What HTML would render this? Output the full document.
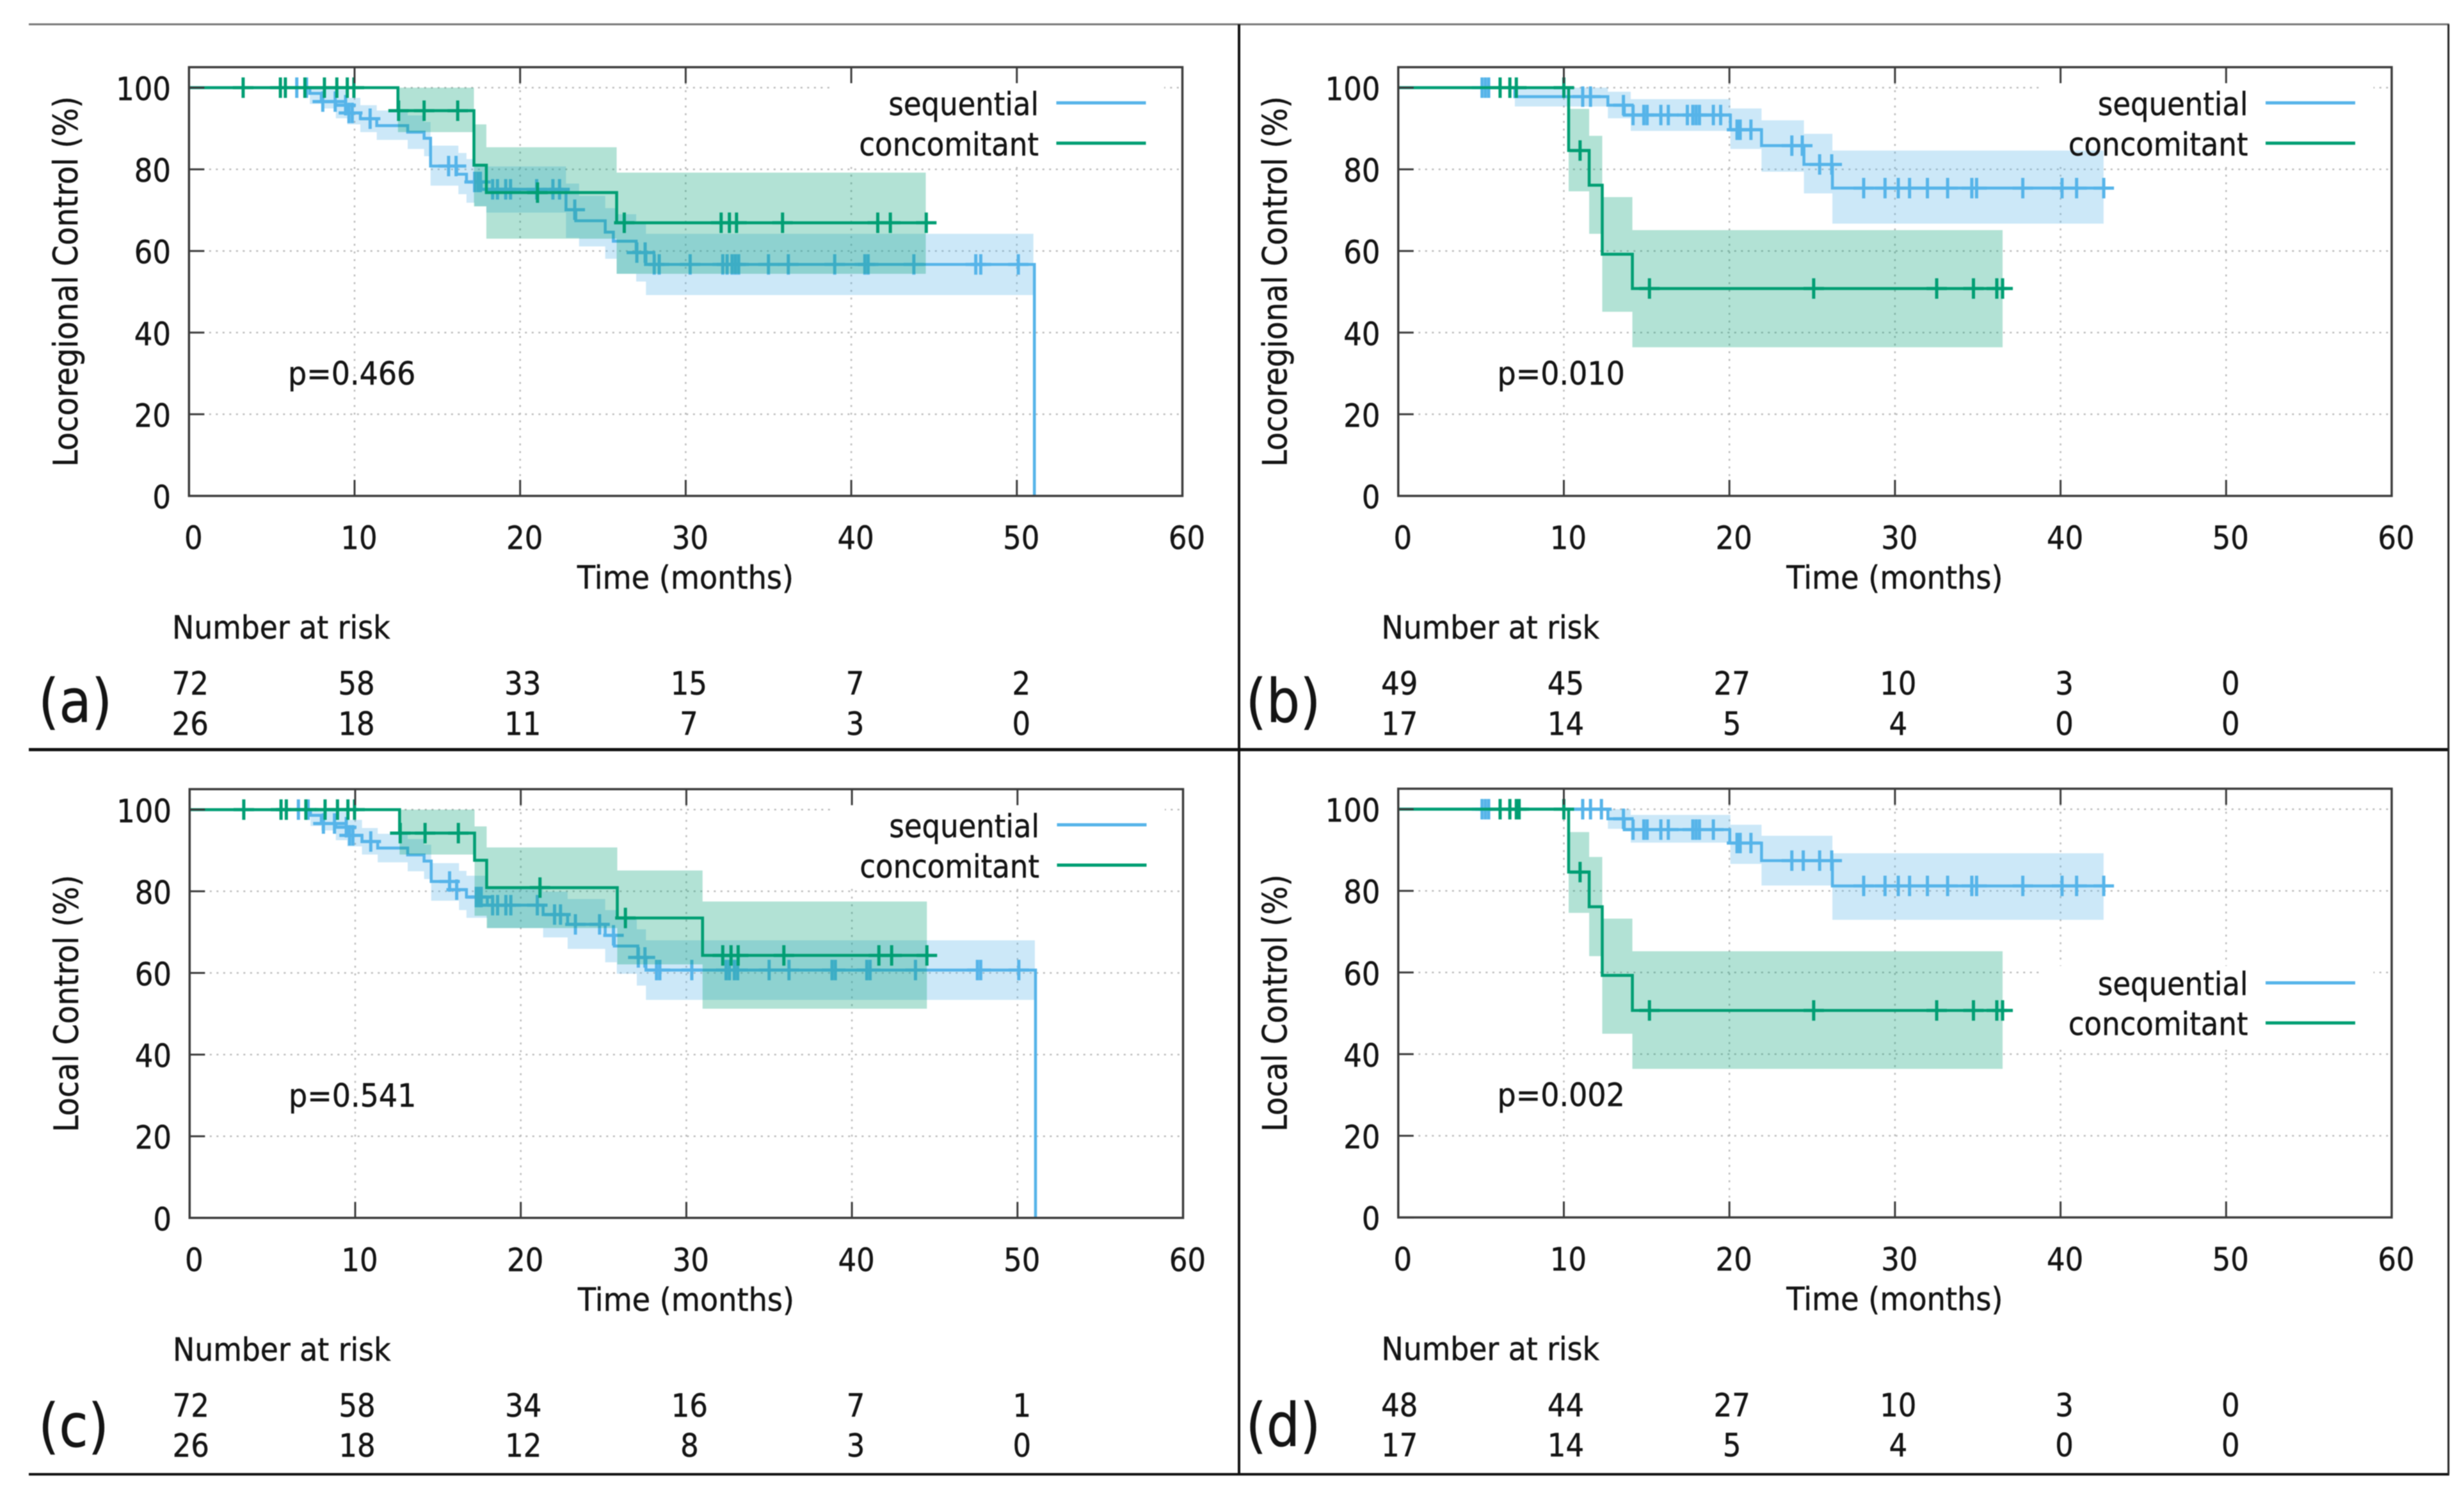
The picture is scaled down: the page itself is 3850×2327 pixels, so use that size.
<!DOCTYPE html>
<html lang="en">
<head>
<meta charset="utf-8">
<title>Kaplan-Meier curves: sequential vs concomitant</title>
<style>
html,body{margin:0;padding:0;background:#fff;}
body{width:3850px;height:2327px;overflow:hidden;}
svg{display:block;filter:blur(0.9px);}
text{font-family:"DejaVu Sans","Liberation Sans",sans-serif;fill:#141414;stroke:#141414;stroke-width:.5px;font-size:50px;}
.panel-letter{font-size:94px;}
.yt{font-size:53px;}
</style>
</head>
<body>
<svg id="figure" xmlns="http://www.w3.org/2000/svg" width="3850" height="2327" viewBox="0 0 3850 2327">
<rect x="0" y="0" width="3850" height="2327" fill="#fff"/>

<g id="panel-a">
  <g id="a-grid"></g>
  <rect x="1302" y="130" width="517" height="128" fill="#fff"/>
  <g id="a-marks"></g>
  <g id="a-axes"></g>
  <text class="yt" text-anchor="middle" transform="translate(121,440) rotate(-90) scale(.885,1)">Locoregional Control (%)</text>
  <text text-anchor="middle" transform="translate(1071,920) scale(.925,1)">Time (months)</text>
  <text text-anchor="end" transform="translate(1623,180) scale(.9,1)">sequential</text>
  <text text-anchor="end" transform="translate(1623,243) scale(.9,1)">concomitant</text>
  <line x1="1650.5" x2="1790.5" y1="160.7" y2="160.7" stroke="#56B4E9" stroke-width="5"/>
  <line x1="1650.5" x2="1790.5" y1="223.7" y2="223.7" stroke="#009E73" stroke-width="5"/>
  <text transform="translate(450,601) scale(.92,1)">p=0.466</text>
  <text transform="translate(269,998) scale(.915,1)">Number at risk</text>
  <text class="panel-letter" transform="translate(60,1128) scale(.88,1)">(a)</text>
</g>

<g id="panel-b" transform="translate(1889.5,0)">
  <g id="b-grid"></g>
  <rect x="1302" y="130" width="517" height="128" fill="#fff"/>
  <g id="b-marks"></g>
  <g id="b-axes"></g>
  <text class="yt" text-anchor="middle" transform="translate(121,440) rotate(-90) scale(.885,1)">Locoregional Control (%)</text>
  <text text-anchor="middle" transform="translate(1071,920) scale(.925,1)">Time (months)</text>
  <text text-anchor="end" transform="translate(1623,180) scale(.9,1)">sequential</text>
  <text text-anchor="end" transform="translate(1623,243) scale(.9,1)">concomitant</text>
  <line x1="1650.5" x2="1790.5" y1="160.7" y2="160.7" stroke="#56B4E9" stroke-width="5"/>
  <line x1="1650.5" x2="1790.5" y1="223.7" y2="223.7" stroke="#009E73" stroke-width="5"/>
  <text transform="translate(450,601) scale(.92,1)">p=0.010</text>
  <text transform="translate(269,998) scale(.915,1)">Number at risk</text>
  <text class="panel-letter" transform="translate(57,1128) scale(.88,1)">(b)</text>
</g>

<g id="panel-c" transform="translate(1,1128.3)">
  <g id="c-grid"></g>
  <rect x="1302" y="130" width="517" height="128" fill="#fff"/>
  <g id="c-marks"></g>
  <g id="c-axes"></g>
  <text class="yt" text-anchor="middle" transform="translate(121,440) rotate(-90) scale(.885,1)">Local Control (%)</text>
  <text text-anchor="middle" transform="translate(1071,920) scale(.925,1)">Time (months)</text>
  <text text-anchor="end" transform="translate(1623,180) scale(.9,1)">sequential</text>
  <text text-anchor="end" transform="translate(1623,243) scale(.9,1)">concomitant</text>
  <line x1="1650.5" x2="1790.5" y1="160.7" y2="160.7" stroke="#56B4E9" stroke-width="5"/>
  <line x1="1650.5" x2="1790.5" y1="223.7" y2="223.7" stroke="#009E73" stroke-width="5"/>
  <text transform="translate(450,601) scale(.92,1)">p=0.541</text>
  <text transform="translate(269,998) scale(.915,1)">Number at risk</text>
  <text class="panel-letter" transform="translate(59,1132) scale(.88,1)">(c)</text>
</g>

<g id="panel-d" transform="translate(1889.5,1127.6)">
  <g id="d-grid"></g>
  <rect x="1302" y="382" width="517" height="125" fill="#fff"/>
  <g id="d-marks"></g>
  <g id="d-axes"></g>
  <text class="yt" text-anchor="middle" transform="translate(121,440) rotate(-90) scale(.885,1)">Local Control (%)</text>
  <text text-anchor="middle" transform="translate(1071,920) scale(.925,1)">Time (months)</text>
  <text text-anchor="end" transform="translate(1623,427.4) scale(.9,1)">sequential</text>
  <text text-anchor="end" transform="translate(1623,489.7) scale(.9,1)">concomitant</text>
  <line x1="1650.5" x2="1790.5" y1="408.4" y2="408.4" stroke="#56B4E9" stroke-width="5"/>
  <line x1="1650.5" x2="1790.5" y1="471" y2="471" stroke="#009E73" stroke-width="5"/>
  <text transform="translate(450,601) scale(.92,1)">p=0.002</text>
  <text transform="translate(269,998) scale(.915,1)">Number at risk</text>
  <text class="panel-letter" transform="translate(57,1132) scale(.88,1)">(d)</text>
</g>

<line x1="45" x2="3827" y1="38" y2="38" stroke="#777" stroke-width="3"/>
<line x1="45" x2="3827" y1="1171.5" y2="1171.5" stroke="#111" stroke-width="5"/>
<line x1="45" x2="3827" y1="2304" y2="2304" stroke="#111" stroke-width="4"/>
<line x1="1936" x2="1936" y1="38" y2="2304" stroke="#111" stroke-width="4"/>
<line x1="3825.7" x2="3825.7" y1="38" y2="2304" stroke="#222" stroke-width="3"/>
</svg>

<script>
// Axis tick labels
const xTicks = [0, 10, 20, 30, 40, 50, 60];
const yTicks = [0, 20, 40, 60, 80, 100];

// Panel (a): locoregional control
const aSeqT = [0, 7.3, 7.99, 8.87, 9.56, 10.35, 11.34, 13.21, 14.2, 14.59, 16.17, 16.76, 17.65, 22.77, 23.36, 25.14, 25.63, 27.01, 27.6, 51.06];
const aSeqS = [100, 98.6, 96.6, 95.7, 93.8, 92.4, 90.7, 89.1, 87.6, 80.8, 78.8, 76.9, 75.1, 70.1, 67.4, 64.6, 62.4, 59.6, 56.7, 0];
const aSeqBandT = [7.3, 7.99, 8.87, 9.56, 10.35, 11.34, 13.21, 14.2, 14.59, 16.27, 16.76, 17.25, 17.96, 22.77, 23.56, 25.14, 25.83, 27.01, 27.6, 51.0];
const aSeqBandHi = [100, 100, 99.5, 97.5, 95.7, 94.4, 93.2, 91.6, 85.8, 84, 82.5, 80.7, 80.7, 76.5, 73.5, 70.5, 69, 67, 64.2];
const aSeqBandLo = [96, 94.9, 92.5, 91, 89.1, 87.2, 85, 83.2, 76, 73.9, 71.8, 71, 69.4, 63.2, 61.1, 58.1, 54.4, 52.5, 49.2];
const aSeqCensored = [6.51, 7.1, 8.08, 8.83, 9.46, 9.66, 9.86, 10.94, 15.68, 16.13, 17.25, 17.45, 17.6, 18.34, 18.63, 19.13, 19.42, 21, 21.98, 22.38, 23.3, 27.05, 27.55, 28.1, 28.4, 30.27, 32.24, 32.5, 32.8, 33, 33.2, 35, 36.2, 39, 40.82, 41.02, 43.78, 47.52, 47.82, 50.09];
const aSeqEnd = 51.06;
const aConcT = [0, 12.62, 17.21, 17.96, 25.83];
const aConcS = [100, 94.36, 81, 74.3, 66.9];
const aConcBandT = [12.62, 17.21, 17.96, 25.83, 44.5];
const aConcBandHi = [100, 91, 85.4, 79.2];
const aConcBandLo = [89.1, 70.9, 63, 54.4];
const aConcCensored = [3.27, 5.52, 5.82, 7, 8.18, 8.93, 9.56, 9.96, 12.66, 14.2, 16.23, 21.05, 26.29, 32.14, 32.64, 33.07, 35.85, 41.6, 42.36, 44.53];
const aConcEnd = 44.53;
const aRiskSeq = [72, 58, 33, 15, 7, 2];
const aRiskConc = [26, 18, 11, 7, 3, 0];

// Panel (b): locoregional control
const bSeqT = [0, 7.04, 12.66, 13.65, 20.06, 21.94, 24.5, 26.22];
const bSeqS = [100, 97.8, 95.7, 93.3, 89.7, 85.8, 81.2, 75.4];
const bSeqBandT = [7.04, 12.66, 14.04, 20.06, 21.94, 24.5, 26.22, 42.6];
const bSeqBandHi = [100, 99, 97.2, 94.9, 92, 88.7, 84.6];
const bSeqBandLo = [95.4, 92.5, 89.4, 85, 79.4, 74.1, 66.7];
const bSeqCensored = [5.06, 5.26, 5.46, 11.14, 11.61, 13.6, 14.18, 14.83, 15.03, 15.86, 16.31, 17.46, 17.79, 17.99, 18.19, 19.03, 19.47, 20.46, 20.65, 21.3, 23.77, 24.4, 25.45, 26.18, 28.11, 29.4, 30.2, 30.88, 31.96, 33.18, 34.64, 34.93, 37.72, 40.09, 40.97, 42.61];
const bSeqEnd = 42.61;
const bConcT = [0, 10.29, 11.53, 12.32, 14.14];
const bConcS = [100, 84.6, 76.1, 59.2, 50.8];
const bConcBandT = [10.29, 11.53, 12.32, 14.14, 36.5];
const bConcBandHi = [94.8, 88.2, 73.2, 65.1];
const bConcBandLo = [74.6, 64.2, 45.1, 36.4];
const bConcCensored = [6.15, 6.74, 7.13, 10, 10.98, 15.17, 25.09, 32.52, 34.74, 36.15, 36.5];
const bConcEnd = 36.5;
const bRiskSeq = [49, 45, 27, 10, 3, 0];
const bRiskConc = [17, 14, 5, 4, 0, 0];

// Panel (c): local control
const cSeqT = [0, 7.3, 7.95, 8.83, 9.52, 10.41, 11.36, 13.17, 14.16, 14.59, 16.13, 16.72, 17.98, 21.35, 22.83, 25.1, 25.65, 27.07, 27.56, 51.09];
const cSeqS = [100, 98.6, 96.6, 95.7, 93.7, 92.2, 90.6, 88.9, 87.4, 82.4, 80.4, 78.6, 76.6, 74.3, 71.9, 69.2, 66.6, 63.8, 60.7, 0];
const cSeqBandT = [7.3, 7.95, 8.83, 9.52, 10.41, 11.36, 13.17, 14.16, 14.59, 16.27, 16.72, 17.98, 21.35, 22.83, 25.1, 25.8, 27.01, 27.56, 51.05];
const cSeqBandHi = [100, 100, 99.5, 97.5, 95.5, 94.1, 92.8, 91.4, 86.9, 85, 83.8, 80.9, 79.9, 78.1, 75.4, 73.6, 70.7, 68];
const cSeqBandLo = [96, 94.9, 92.5, 91, 89, 87.1, 84.9, 83, 77.7, 75.4, 73.5, 71, 68.7, 65.9, 62.6, 59.8, 56.9, 53.4];
const cSeqCensored = [6.57, 7.16, 8.08, 8.75, 9.46, 9.66, 9.86, 10.94, 15.7, 16.13, 17.31, 17.47, 17.61, 18.3, 18.6, 19.1, 19.4, 21, 22.04, 22.4, 23.3, 24.76, 25.6, 27.1, 27.5, 28.2, 28.4, 30.33, 32.4, 32.6, 32.9, 33.1, 35, 36.2, 38.8, 39, 40.9, 41.1, 43.84, 47.58, 47.78, 50.08];
const cSeqEnd = 51.09;
const cConcT = [0, 12.68, 17.21, 17.94, 25.83, 30.98];
const cConcS = [100, 94.25, 87.6, 80.9, 73.46, 64.3];
const cConcBandT = [12.68, 17.21, 17.94, 25.83, 30.98, 44.53];
const cConcBandHi = [100, 95.9, 90.75, 85.1, 77.5];
const cConcBandLo = [89, 74, 71, 62.1, 51.25];
const cConcCensored = [3.27, 5.52, 5.84, 7.02, 8.18, 8.93, 9.56, 9.96, 12.72, 14.22, 16.23, 21.16, 26.32, 32.2, 32.7, 33.13, 35.89, 41.63, 42.4, 44.53];
const cConcEnd = 44.53;
const cRiskSeq = [72, 58, 34, 16, 7, 1];
const cRiskConc = [26, 18, 12, 8, 3, 0];

// Panel (d): local control
const dSeqT = [0, 12.66, 13.65, 20.02, 21.94, 26.22];
const dSeqS = [100, 97.65, 95, 91.7, 87.4, 81.2];
const dSeqBandT = [12.66, 14.04, 20.06, 21.94, 26.22, 42.6];
const dSeqBandHi = [100, 98.6, 96.2, 93.5, 89.2];
const dSeqBandLo = [95.2, 91.8, 86.6, 81.3, 72.9];
const dSeqCensored = [5.06, 5.26, 5.46, 11.14, 11.61, 12.27, 13.6, 14.18, 14.83, 15.03, 15.86, 16.31, 17.79, 17.99, 18.19, 19.03, 20.46, 20.65, 21.3, 23.77, 24.46, 25.45, 26.18, 28.11, 29.4, 30.2, 30.88, 31.96, 33.18, 34.64, 34.93, 37.72, 40.09, 40.97, 42.61];
const dSeqEnd = 42.61;
const dConcT = [0, 10.29, 11.53, 12.32, 14.14];
const dConcS = [100, 84.6, 76.1, 59.3, 50.7];
const dConcBandT = [10.29, 11.53, 12.32, 14.14, 36.5];
const dConcBandHi = [94.4, 88.3, 73.2, 65.2];
const dConcBandLo = [74.6, 64, 45, 36.4];
const dConcCensored = [6.15, 6.74, 7.13, 7.3, 10, 10.98, 15.17, 25.09, 32.52, 34.74, 36.15, 36.5];
const dConcEnd = 36.5;
const dRiskSeq = [48, 44, 27, 10, 3, 0];
const dRiskConc = [17, 14, 5, 4, 0, 0];

const SVGNS = 'http://www.w3.org/2000/svg';
const BLUE = '#56B4E9';
const GREEN = '#009E73';

// Axis functions, in panel-local pixels
function xAxis(t) { return 295.3 + 25.87 * t; }
function yAxis(s) { return 775 - 6.38 * s; }

function make(tag, parent, attrs) {
  const el = document.createElementNS(SVGNS, tag);
  for (const k in attrs) el.setAttribute(k, attrs[k]);
  parent.appendChild(el);
  return el;
}

function drawBand(parent, T, Hi, Lo, color) {
  let d = 'M' + xAxis(T[0]) + ' ' + yAxis(Hi[0]);
  for (let i = 0; i < Hi.length; i++) {
    d += 'H' + xAxis(T[i + 1]);
    if (i + 1 < Hi.length) d += 'V' + yAxis(Hi[i + 1]);
  }
  for (let i = Lo.length - 1; i >= 0; i--) {
    d += 'V' + yAxis(Lo[i]) + 'H' + xAxis(T[i]);
  }
  d += 'Z';
  const el = make('path', parent, { d: d, fill: color, 'fill-opacity': 0.3, stroke: 'none' });
  
  
}

function drawStep(parent, T, S, end, color) {
  let d = 'M' + xAxis(T[0]) + ' ' + yAxis(S[0]);
  for (let i = 1; i < T.length; i++) {
    d += 'H' + xAxis(T[i]) + 'V' + yAxis(S[i]);
  }
  d += 'H' + xAxis(end);
  const el = make('path', parent, { d: d, fill: 'none', stroke: color, 'stroke-width': 4.6, 'stroke-linejoin': 'miter' });
  
  
}

function survivalAt(T, S, t) {
  let v = S[0];
  for (let i = 0; i < T.length; i++) {
    if (T[i] <= t) v = S[i];
  }
  return v;
}

function drawCensored(parent, times, T, S, color) {
  times.forEach(function (t) {
    const cx = xAxis(t);
    const cy = yAxis(survivalAt(T, S, t));
    const el = make('path', parent, {
      d: 'M' + (cx - 16) + ' ' + cy + 'H' + (cx + 16) + 'M' + cx + ' ' + (cy - 16) + 'V' + (cy + 16),
      fill: 'none', stroke: color, 'stroke-width': 5
    });
    
    
  });
}

function drawGrid(parent) {
  xTicks.slice(1, -1).forEach(function (t) {
    const el = make('line', parent, { x1: xAxis(t), x2: xAxis(t), y1: 105, y2: 775, stroke: '#bbb', 'stroke-width': 2.5, 'stroke-dasharray': '3 9' });
    
    
  });
  yTicks.slice(1).forEach(function (s) {
    const el = make('line', parent, { x1: xAxis(0), x2: xAxis(60), y1: yAxis(s), y2: yAxis(s), stroke: '#bbb', 'stroke-width': 2.5, 'stroke-dasharray': '3 7.5' });
    
    
  });
}

function drawAxes(parent, riskSeq, riskConc) {
  const box = make('rect', parent, { x: xAxis(0), y: 105, width: xAxis(60) - xAxis(0), height: 670, fill: 'none', stroke: '#3c3c3c', 'stroke-width': 3.5 });
  
  
  xTicks.forEach(function (t) {
    const tickBottom = make('line', parent, { x1: xAxis(t), x2: xAxis(t), y1: 775, y2: 750, stroke: '#3c3c3c', 'stroke-width': 3 });
    
    
    const tickTop = make('line', parent, { x1: xAxis(t), x2: xAxis(t), y1: 105, y2: 130, stroke: '#3c3c3c', 'stroke-width': 3 });
    
    
    const label = make('text', parent, { 'text-anchor': 'middle', transform: 'translate(' + (xAxis(t) + 7) + ',858) scale(.9,1)' });
    label.textContent = String(t);
    
    
  });
  yTicks.forEach(function (s) {
    const tick = make('line', parent, { x1: xAxis(0), x2: xAxis(0) + 24, y1: yAxis(s), y2: yAxis(s), stroke: '#3c3c3c', 'stroke-width': 3 });
    
    
    const label = make('text', parent, { 'text-anchor': 'end', transform: 'translate(267,' + (yAxis(s) + 19.5) + ') scale(.9,1)' });
    label.textContent = String(s);
    
    
  });
  riskSeq.forEach(function (n, i) {
    const label = make('text', parent, { 'text-anchor': 'middle', transform: 'translate(' + (xAxis(xTicks[i]) + 2 + i) + ',1085.7) scale(.9,1)' });
    label.textContent = String(n);
    
    
  });
  riskConc.forEach(function (n, i) {
    const label = make('text', parent, { 'text-anchor': 'middle', transform: 'translate(' + (xAxis(xTicks[i]) + 2 + i) + ',1148.3) scale(.9,1)' });
    label.textContent = String(n);
    
    
  });
}

function drawPanel(id, p) {
  drawGrid(document.getElementById(id + '-grid'));
  const marks = document.getElementById(id + '-marks');
  drawBand(marks, p.seqBandT, p.seqBandHi, p.seqBandLo, BLUE);
  drawStep(marks, p.seqT, p.seqS, p.seqEnd, BLUE);
  drawCensored(marks, p.seqCensored, p.seqT, p.seqS, BLUE);
  drawBand(marks, p.concBandT, p.concBandHi, p.concBandLo, GREEN);
  drawStep(marks, p.concT, p.concS, p.concEnd, GREEN);
  drawCensored(marks, p.concCensored, p.concT, p.concS, GREEN);
  drawAxes(document.getElementById(id + '-axes'), p.riskSeq, p.riskConc);
}

drawPanel('a', { seqT: aSeqT, seqS: aSeqS, seqEnd: aSeqEnd, seqBandT: aSeqBandT, seqBandHi: aSeqBandHi, seqBandLo: aSeqBandLo, seqCensored: aSeqCensored, concT: aConcT, concS: aConcS, concEnd: aConcEnd, concBandT: aConcBandT, concBandHi: aConcBandHi, concBandLo: aConcBandLo, concCensored: aConcCensored, riskSeq: aRiskSeq, riskConc: aRiskConc });
drawPanel('b', { seqT: bSeqT, seqS: bSeqS, seqEnd: bSeqEnd, seqBandT: bSeqBandT, seqBandHi: bSeqBandHi, seqBandLo: bSeqBandLo, seqCensored: bSeqCensored, concT: bConcT, concS: bConcS, concEnd: bConcEnd, concBandT: bConcBandT, concBandHi: bConcBandHi, concBandLo: bConcBandLo, concCensored: bConcCensored, riskSeq: bRiskSeq, riskConc: bRiskConc });
drawPanel('c', { seqT: cSeqT, seqS: cSeqS, seqEnd: cSeqEnd, seqBandT: cSeqBandT, seqBandHi: cSeqBandHi, seqBandLo: cSeqBandLo, seqCensored: cSeqCensored, concT: cConcT, concS: cConcS, concEnd: cConcEnd, concBandT: cConcBandT, concBandHi: cConcBandHi, concBandLo: cConcBandLo, concCensored: cConcCensored, riskSeq: cRiskSeq, riskConc: cRiskConc });
drawPanel('d', { seqT: dSeqT, seqS: dSeqS, seqEnd: dSeqEnd, seqBandT: dSeqBandT, seqBandHi: dSeqBandHi, seqBandLo: dSeqBandLo, seqCensored: dSeqCensored, concT: dConcT, concS: dConcS, concEnd: dConcEnd, concBandT: dConcBandT, concBandHi: dConcBandHi, concBandLo: dConcBandLo, concCensored: dConcCensored, riskSeq: dRiskSeq, riskConc: dRiskConc });
</script>
</body>
</html>
